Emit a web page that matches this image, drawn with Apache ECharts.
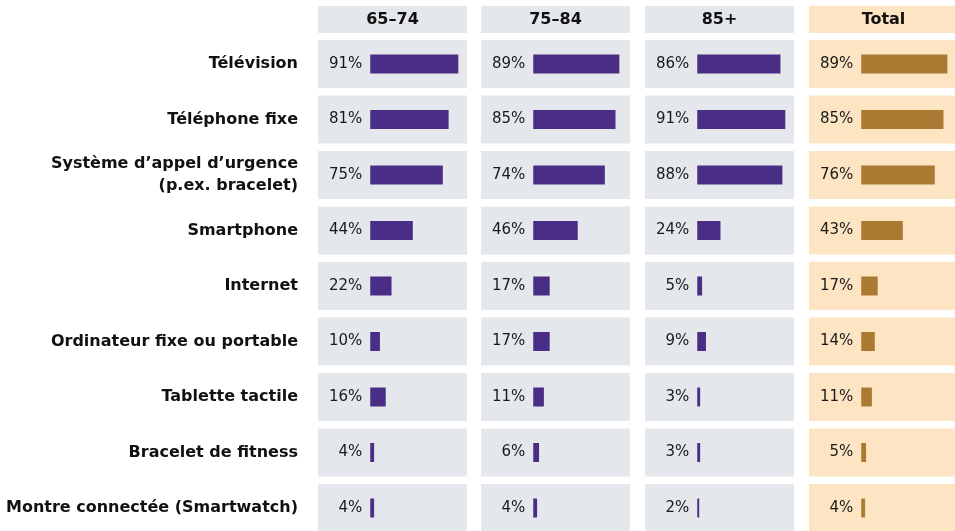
<!DOCTYPE html>
<html>
<head>
<meta charset="utf-8">
<script src="https://cdn.jsdelivr.net/npm/echarts@6/dist/echarts.min.js"></script>
<style>
html,body{margin:0;padding:0;background:#fff;}
#chart{width:955px;height:531px;}
</style>
</head>
<body>
<div id="chart"></div>
<script>
const categories = [
  'Télévision',
  'Téléphone fixe',
  'Système d’appel d’urgence\n(p.ex. bracelet)',
  'Smartphone',
  'Internet',
  'Ordinateur fixe ou portable',
  'Tablette tactile',
  'Bracelet de fitness',
  'Montre connectée (Smartwatch)'
];
const groups = ['65–74', '75–84', '85+', 'Total'];
const values6574 = [91, 81, 75, 44, 22, 10, 16, 4, 4];
const values7584 = [89, 85, 74, 46, 17, 17, 11, 6, 4];
const values85 = [86, 91, 88, 24, 5, 9, 3, 3, 2];
const valuesTotal = [89, 85, 76, 43, 17, 14, 11, 5, 4];
const seriesValues = [values6574, values7584, values85, valuesTotal];

const FONT = '"DejaVu Sans"';
const panelLeft = [318, 481, 645, 809];
const panelWidth = 149;
const gridTop = 36.25;
const gridHeight = 499.5;
const bgColors = ['#e4e7eb', '#e4e7eb', '#e4e7eb', '#fde5c4'];
const barColors = ['#4a2e85', '#4a2e85', '#4a2e85', '#aa7a32'];

const grids = [], xAxes = [], yAxes = [], series = [], graphics = [];
groups.forEach((g, i) => {
  for (let k = 0; k < 2; k++) {
    const idx = grids.length;
    grids.push({
      left: panelLeft[i], width: panelWidth, top: gridTop, height: gridHeight,
      containLabel: false, outerBoundsMode: 'none'
    });
    xAxes.push({type: 'value', gridIndex: idx, min: -54, max: 100, show: false});
    yAxes.push({
      type: 'category', gridIndex: idx, data: categories, inverse: true,
      axisLine: {show: false}, axisTick: {show: false}, splitLine: {show: false},
      axisLabel: {
        show: (i === 0 && k === 0), margin: 20, align: 'right',
        fontFamily: FONT, fontWeight: 'bold', fontSize: 16, color: '#111', lineHeight: 22
      }
    });
    if (k === 0) {
      series.push({
        type: 'bar', xAxisIndex: idx, yAxisIndex: idx, silent: true,
        data: categories.map(() => 0), barWidth: 48,
        showBackground: true,
        backgroundStyle: {color: bgColors[i], opacity: 1},
        itemStyle: {color: 'rgba(0,0,0,0)'}
      });
    } else {
      series.push({
        type: 'bar', xAxisIndex: idx, yAxisIndex: idx, silent: true,
        data: seriesValues[i], barWidth: 19,
        itemStyle: {color: barColors[i]},
        label: {
          show: true, position: 'left', distance: 8,
          formatter: p => p.value + '%',
          fontFamily: FONT, fontSize: 15, color: '#1a1a1a'
        }
      });
    }
  }
  graphics.push({
    type: 'group', left: panelLeft[i], top: 6,
    children: [
      {type: 'rect', shape: {x: 0, y: 0, width: panelWidth, height: 27}, style: {fill: bgColors[i]}},
      {type: 'text', x: panelWidth / 2, y: 13.5, style: {
        text: g, align: 'center', verticalAlign: 'middle',
        font: 'bold 16px ' + FONT, fill: '#111'
      }}
    ]
  });
});

const chart = echarts.init(document.getElementById('chart'), null, {renderer: 'canvas'});
chart.setOption({
  animation: false,
  grid: grids,
  xAxis: xAxes,
  yAxis: yAxes,
  series: series,
  graphic: graphics
});
</script>
</body>
</html>
